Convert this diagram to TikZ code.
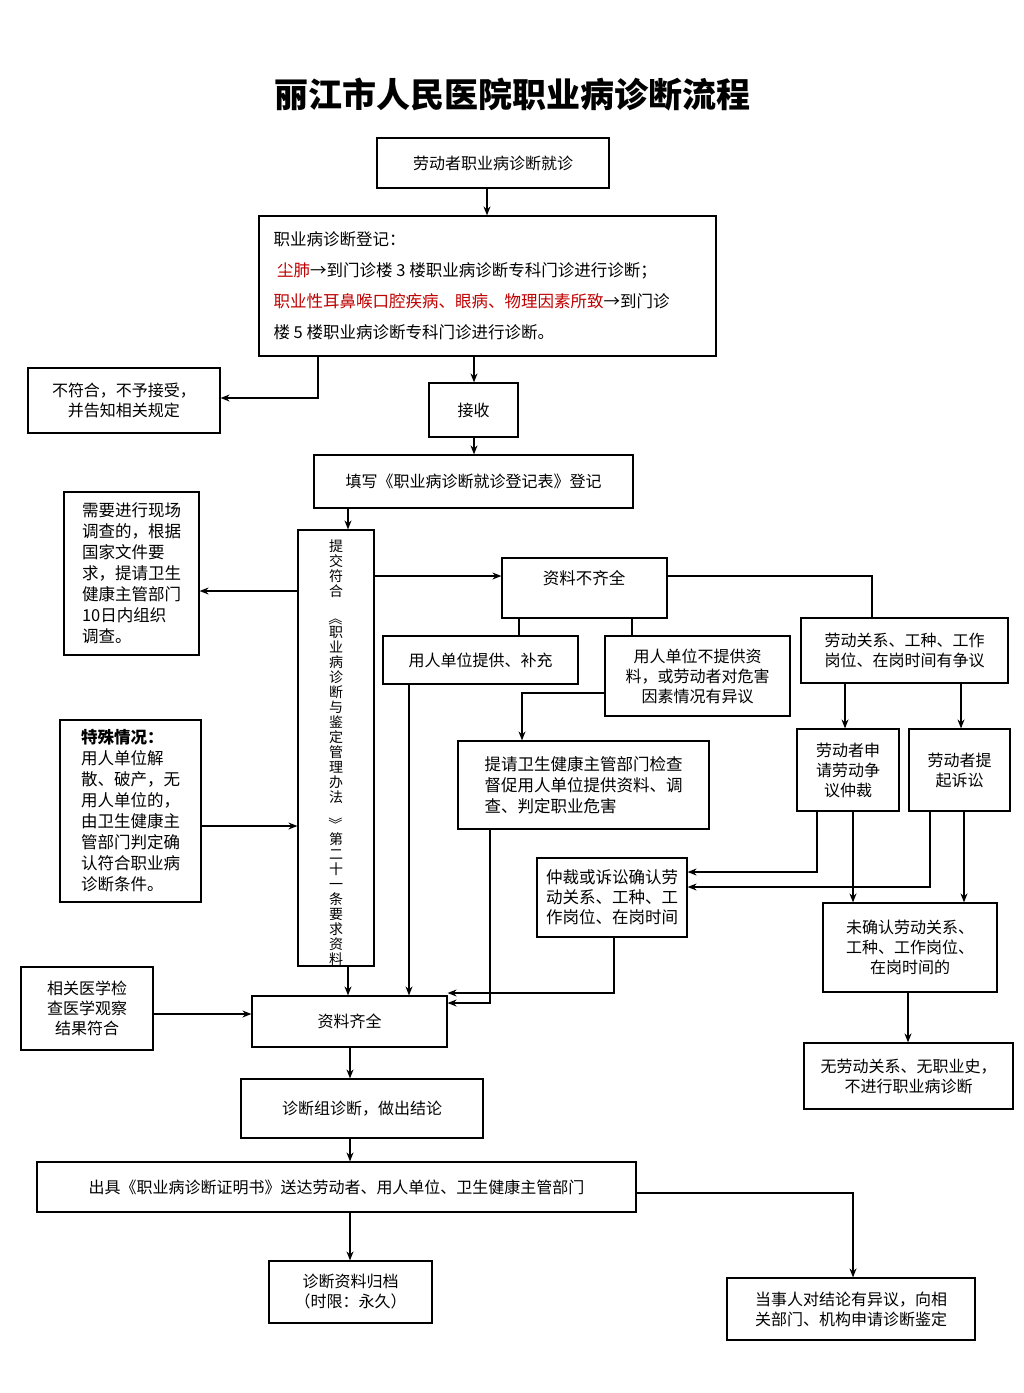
\documentclass[tikz,border=0pt]{standalone}
\usepackage{fontspec}
\setmainfont{Noto Sans CJK SC}
\XeTeXlinebreaklocale "zh"
\XeTeXlinebreakskip=0pt plus 1pt
\usetikzlibrary{arrows.meta}
\newcommand{\bx}[6]{\node[box,minimum width={(#4-#2)*1pt},minimum height={(#5-#3)*1pt}] (#1) at ({(#2+#4)/2},{(#3+#5)/2}) {#6};}
\begin{document}
\begin{tikzpicture}[x=1pt,y=-1pt,
 box/.style={draw,line width=1.2pt,inner sep=3pt,align=center,font=\fontsize{16}{20}\selectfont},
 ln/.style={line width=1.2pt},
 ar/.style={line width=1.2pt,-{Stealth[length=9pt,width=7pt]}}]
\useasboundingbox (0,0) rectangle (1024,1393);
\node[font=\fontsize{34}{40}\selectfont\bfseries] (T) at (512,95) {丽江市人民医院职业病诊断流程};
\bx{B1}{377}{138}{609}{188}{劳动者职业病诊断就诊}
\bx{B2}{259}{216}{716}{356}{}
\node[align=left,anchor=north west,font=\fontsize{16.5}{31}\selectfont] (B2t) at (270,228) {职业病诊断登记：\\
\ \textcolor{red!75!black}{尘肺}→到门诊楼 3 楼职业病诊断专科门诊进行诊断；\\
\textcolor{red!75!black}{职业性耳鼻喉口腔疾病、眼病、物理因素所致}→到门诊\\
楼 5 楼职业病诊断专科门诊进行诊断。};
\bx{B3}{28}{368}{220}{433}{不符合，不予接受，\\并告知相关规定}
\bx{B4}{429}{383}{518}{437}{接收}
\bx{B5}{314}{455}{633}{508}{填写《职业病诊断就诊登记表》登记}
\bx{B6}{64}{492}{199}{655}{}
\node[align=left,font=\fontsize{16.5}{21}\selectfont] (B6t) at (B6) {需要进行现场\\调查的，根据\\国家文件要\\求，提请卫生\\健康主管部门\\10日内组织\\调查。};
\bx{B7}{298}{530}{374}{966}{}
\node[align=center,font=\fontsize{14}{15}\selectfont,anchor=north] (B7t) at (336,536) {提\\交\\符\\合\\\rotatebox{-90}{《}\\职\\业\\病\\诊\\断\\与\\鉴\\定\\管\\理\\办\\法\\\rotatebox{-90}{》}\\第\\二\\十\\一\\条\\要\\求\\资\\料};
\bx{B8}{502}{558}{667}{618}{}
\node (B8t) at (584,578) {\fontsize{16.5}{20}\selectfont 资料不齐全};
\bx{B9}{383}{636}{578}{684}{用人单位提供、补充}
\bx{B10}{605}{636}{790}{716}{用人单位不提供资\\料，或劳动者对危害\\因素情况有异议}
\bx{B11}{801}{618}{1008}{683}{劳动关系、工种、工作\\岗位、在岗时间有争议}
\bx{B12}{458}{741}{709}{829}{}
\node[align=left,font=\fontsize{16.5}{21}\selectfont] (B12t) at (B12) {提请卫生健康主管部门检查\\督促用人单位提供资料、调\\查、判定职业危害};
\bx{B13}{797}{729}{899}{811}{劳动者申\\请劳动争\\议仲裁}
\bx{B14}{909}{729}{1010}{811}{劳动者提\\起诉讼}
\bx{B15}{60}{720}{201}{902}{}
\node[align=left,font=\fontsize{16.5}{21}\selectfont] (B15t) at (B15) {\textbf{特殊情况：}\\用人单位解\\散、破产，无\\用人单位的，\\由卫生健康主\\管部门判定确\\认符合职业病\\诊断条件。};
\bx{B16}{537}{858}{687}{937}{}
\node[align=left,font=\fontsize{16.5}{20}\selectfont] (B16t) at (B16) {仲裁或诉讼确认劳\\动关系、工种、工\\作岗位、在岗时间};
\bx{B17}{823}{903}{997}{992}{未确认劳动关系、\\工种、工作岗位、\\在岗时间的}
\bx{B18}{21}{967}{153}{1050}{相关医学检\\查医学观察\\结果符合}
\bx{B19}{252}{996}{447}{1047}{资料齐全}
\bx{B20}{804}{1043}{1013}{1109}{无劳动关系、无职业史，\\不进行职业病诊断}
\bx{B21}{241}{1079}{483}{1138}{诊断组诊断，做出结论}
\bx{B22}{37}{1162}{636}{1212}{出具《职业病诊断证明书》送达劳动者、用人单位、卫生健康主管部门}
\bx{B23}{269}{1261}{432}{1323}{诊断资料归档\\（时限：永久）}
\bx{B24}{727}{1278}{975}{1340}{当事人对结论有异议，向相\\关部门、机构申请诊断鉴定}
\draw[ar] (B1.south -| 487,0) -- (B2.north -| 487,0);
\draw[ar] (B2.south -| 318,0) -- (318,398) -- (B3.east |- 0,398);
\draw[ar] (B2.south -| 474,0) -- (B4.north -| 474,0);
\draw[ar] (B4.south -| 474,0) -- (B5.north -| 474,0);
\draw[ar] (B5.south -| 348,0) -- (B7.north -| 348,0);
\draw[ar] (B7.west |- 0,591) -- (B6.east |- 0,591);
\draw[ar] (B7.east |- 0,576) -- (B8.west |- 0,576);
\draw[ln] (B8.south -| 519,0) -- (B9.north -| 519,0);
\draw[ln] (B8.south -| 632,0) -- (B10.north -| 632,0);
\draw[ln] (B8.east |- 0,576) -- (872,576) -- (B11.north -| 872,0);
\draw[ar] (B9.south -| 409,0) -- (B19.north -| 409,0);
\draw[ar] (B10.west |- 0,693) -- (522,693) -- (B12.north -| 522,0);
\draw[ar] (B11.south -| 845,0) -- (B13.north -| 845,0);
\draw[ar] (B11.south -| 961,0) -- (B14.north -| 961,0);
\draw[ar] (B12.south -| 490,0) -- (490,1003) -- (B19.east |- 0,1003);
\draw[ar] (B13.south -| 817,0) -- (817,872) -- (B16.east |- 0,872);
\draw[ar] (B13.south -| 853,0) -- (B17.north -| 853,0);
\draw[ar] (B14.south -| 930,0) -- (930,887) -- (B16.east |- 0,887);
\draw[ar] (B14.south -| 964,0) -- (B17.north -| 964,0);
\draw[ar] (B16.south -| 614,0) -- (614,993) -- (B19.east |- 0,993);
\draw[ar] (B15.east |- 0,826) -- (B7.west |- 0,826);
\draw[ar] (B18.east |- 0,1014) -- (B19.west |- 0,1014);
\draw[ar] (B7.south -| 348,0) -- (B19.north -| 348,0);
\draw[ar] (B17.south -| 908,0) -- (B20.north -| 908,0);
\draw[ar] (B19.south -| 350,0) -- (B21.north -| 350,0);
\draw[ar] (B21.south -| 350,0) -- (B22.north -| 350,0);
\draw[ar] (B22.south -| 350,0) -- (B23.north -| 350,0);
\draw[ar] (B22.east |- 0,1193) -- (853,1193) -- (B24.north -| 853,0);
\end{tikzpicture}
\end{document}
